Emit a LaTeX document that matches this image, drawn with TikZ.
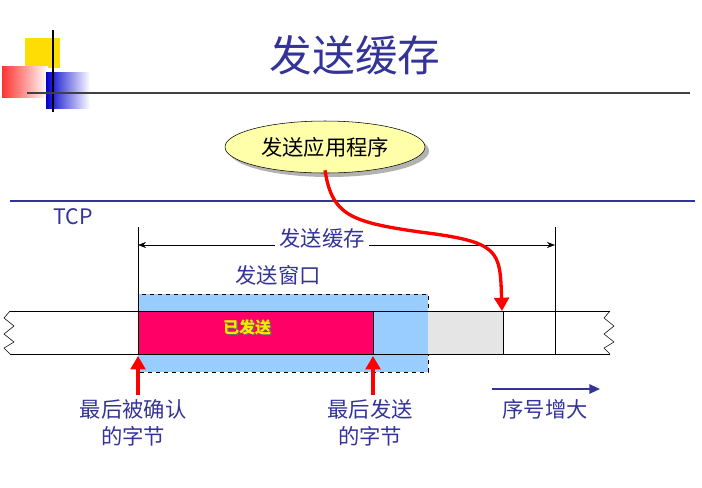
\documentclass[tikz,border=0pt]{standalone}
\usepackage{fontspec}
\setmainfont{Noto Sans CJK SC}
\usetikzlibrary{shapes.geometric,arrows.meta,shadows}
\definecolor{tblue}{RGB}{51,51,153}
\definecolor{lblue}{RGB}{153,204,255}
\definecolor{hot}{RGB}{255,0,102}
\definecolor{lyel}{RGB}{255,255,170}
\tikzset{lbl/.style={text=tblue,font=\fontsize{16}{20}\selectfont,align=center},
redup/.style={draw=red,line width=2.5pt,-{Triangle[length=10pt,width=11pt]}}}
\begin{document}
\begin{tikzpicture}[x=0.75pt,y=-0.75pt]
\useasboundingbox (0,0) rectangle (702,487);
% logo
\fill[yellow!80!orange] (25,38) rectangle (60,68);
\shade[left color=red!80, right color=white] (2,66) rectangle (48,97);
\shade[left color=blue!80!black, right color=white] (46,72) rectangle (90,108);
\draw[line width=1.5pt] (53,30) -- (53,112);
\draw[line width=2pt,black!75] (27,93) -- (690,93);
\node[text=tblue,font=\fontsize{32}{38}\selectfont] (title) at (355,55) {发送缓存};
% app ellipse
\node[ellipse,draw,fill=lyel,minimum width=200*0.75pt,minimum height=52*0.75pt,
 drop shadow={shadow xshift=3pt,shadow yshift=-3pt,fill=black!60},font=\fontsize{16}{18}\selectfont] (app) at (325,147) {发送应用程序};
\draw[tblue,line width=1.5pt] (10,201) -- (695,201);
\node[lbl] (tcp) at (73,217) {TCP};
% window
\draw[dashed,fill=lblue] (138,294) rectangle (428,372);
\fill[black!10] (428,311) rectangle (503,354);
\fill[hot] (138,311) rectangle (373,354);
\draw (10,311) -- (610,311) (10,354) -- (610,354);
\draw (373,311) -- (373,354) (503,311) -- (503,354);
\draw (138,227) -- (138,354) (555,227) -- (555,354);
\draw (10,311) -- (4,318) -- (14,326) -- (4,334) -- (14,342) -- (4,348) -- (10,354);
\draw (610,311) -- (604,318) -- (614,326) -- (604,334) -- (614,342) -- (604,348) -- (610,354);
\coordinate (bl) at (138,245); \coordinate (br) at (555,245);
\draw[{Stealth[length=6pt]}-{Stealth[length=6pt]}] (bl) -- (br);
\node[lbl,fill=white,inner sep=3pt] (buf) at (322,238) {发送缓存};
\node[lbl] (win) at (278,275) {发送窗口};
\node[text=black!60,font=\bfseries\fontsize{12}{13}\selectfont] at (248.5,328.5) {已发送};
\node[text=yellow!90!orange,font=\bfseries\fontsize{12}{13}\selectfont] (sent) at (247,327) {已发送};
% curved arrow
\coordinate (tip) at (502,311);
\draw[red,line width=2.5pt,-{Triangle[length=10pt,width=11pt]}] (app.south) ++(0,-3) .. controls (332,215) and (350,222) .. (420,232) .. controls (500,242) and (500,250) .. (tip);
% up arrows
\coordinate (a1) at (138,395); \coordinate (a1t) at (138,356);
\coordinate (a2) at (373,395); \coordinate (a2t) at (373,356);
\draw[redup] (a1) -- (a1t);
\draw[redup] (a2) -- (a2t);
\node[lbl] (l1) at (133,423) {最后被确认\\的字节};
\node[lbl] (l2) at (370,423) {最后发送\\的字节};
\coordinate (s1) at (492,389); \coordinate (s2) at (600,389);
\draw[tblue,line width=1.5pt,-{Triangle[length=8pt,width=7pt]}] (s1) -- (s2);
\node[lbl] (inc) at (545,409) {序号增大};
\end{tikzpicture}
\end{document}
